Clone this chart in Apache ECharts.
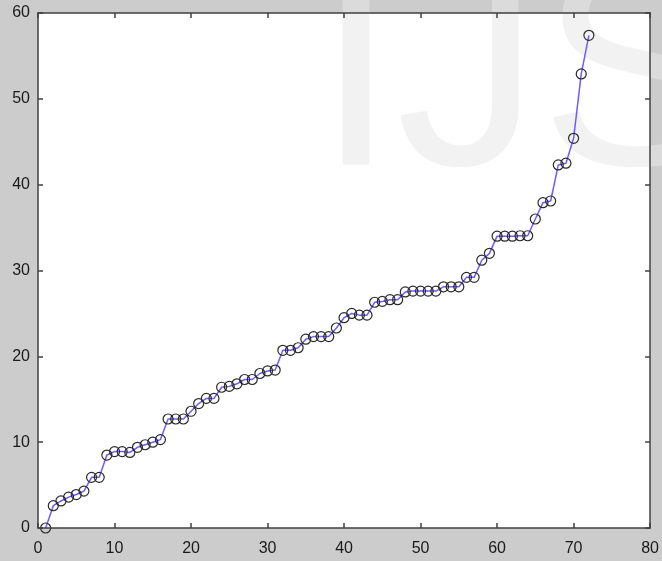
<!DOCTYPE html>
<html>
<head>
<meta charset="utf-8">
<script src="https://cdn.jsdelivr.net/npm/echarts@6/dist/echarts.min.js"></script>
<style>
  html, body { margin: 0; padding: 0; background: #cccccc; }
  #chart { width: 662px; height: 561px; }
</style>
</head>
<body>
<div id="chart"></div>
<script>
// Sample index (x) and sorted measured value (y)
const xValues = [1, 2, 3, 4, 5, 6, 7, 8, 9, 10, 11, 12, 13, 14, 15, 16, 17, 18,
  19, 20, 21, 22, 23, 24, 25, 26, 27, 28, 29, 30, 31, 32, 33, 34, 35, 36,
  37, 38, 39, 40, 41, 42, 43, 44, 45, 46, 47, 48, 49, 50, 51, 52, 53, 54,
  55, 56, 57, 58, 59, 60, 61, 62, 63, 64, 65, 66, 67, 68, 69, 70, 71, 72];
const yValues = [0, 2.6, 3.15, 3.6, 3.9, 4.3, 5.9, 5.9, 8.5, 8.9, 8.9, 8.8,
  9.4, 9.7, 10.0, 10.3, 12.7, 12.7, 12.7, 13.6, 14.5, 15.1, 15.1, 16.4,
  16.5, 16.8, 17.3, 17.3, 18.0, 18.3, 18.4, 20.7, 20.7, 21.0, 22.0, 22.3,
  22.3, 22.3, 23.3, 24.5, 25.0, 24.8, 24.8, 26.3, 26.4, 26.6, 26.6, 27.5,
  27.6, 27.6, 27.6, 27.6, 28.1, 28.1, 28.1, 29.2, 29.2, 31.2, 32.0, 34.0,
  34.0, 34.0, 34.05, 34.05, 36.0, 37.9, 38.1, 42.3, 42.5, 45.4, 52.9, 57.4];

const xTicks = { min: 0, max: 80, interval: 10 };
const yTicks = { min: 0, max: 60, interval: 10 };

const points = xValues.map((x, i) => [x, yValues[i]]);

const axisLineStyle = { color: '#404040', width: 1.5 };
const labelStyle = { fontFamily: 'Liberation Sans', fontSize: 16, color: '#1a1a1a' };

function makeAxis(range, position, showLabel, margin) {
  return {
    type: 'value',
    position: position,
    min: range.min,
    max: range.max,
    interval: range.interval,
    z: 4,
    axisLine: { show: true, onZero: false, lineStyle: axisLineStyle },
    axisTick: { show: true, inside: true, length: 5, lineStyle: axisLineStyle },
    axisLabel: Object.assign({ show: showLabel, margin: margin }, labelStyle),
    splitLine: { show: false }
  };
}

const chart = echarts.init(document.getElementById('chart'), null, { renderer: 'canvas' });
chart.setOption({
  backgroundColor: '#cccccc',
  animation: false,
  grid: {
    left: 38, right: 11, top: 13, bottom: 33,
    show: true, backgroundColor: '#ffffff', borderWidth: 0
  },
  xAxis: [
    makeAxis(xTicks, 'bottom', true, 13),
    makeAxis(xTicks, 'top', false, 8)
  ],
  yAxis: [
    makeAxis(yTicks, 'left', true, 8),
    makeAxis(yTicks, 'right', false, 8)
  ],
  graphic: [{
    type: 'text',
    silent: true,
    z: 1,
    x: 316,
    y: 85,
    style: {
      text: 'IJS',
      font: '288px "Liberation Sans"',
      fill: 'rgba(232,232,232,0.55)',
      align: 'left',
      verticalAlign: 'middle'
    }
  }],
  series: [{
    type: 'line',
    data: points,
    z: 3,
    symbol: 'circle',
    symbolSize: 10,
    showSymbol: true,
    lineStyle: { color: '#6f5cff', width: 1.5 },
    itemStyle: { color: 'rgba(255,255,255,0)', borderColor: '#2a2a2a', borderWidth: 1.2 }
  }]
});
</script>
</body>
</html>
